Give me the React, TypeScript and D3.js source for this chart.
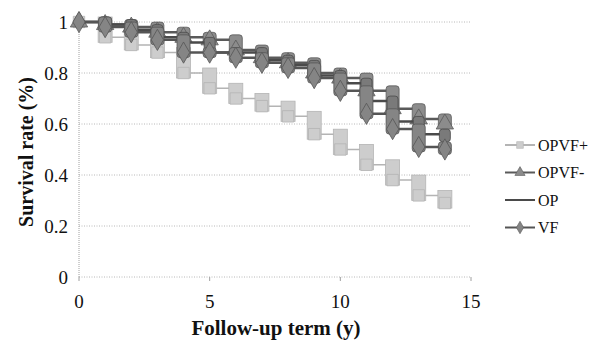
import { useMemo } from "react";
import * as d3 from "d3";

// follow-up years (x) and survival after the step at each year
const years = [0, 1, 2, 3, 4, 5, 6, 7, 8, 9, 10, 11, 12, 13, 14];
const opvfPlus = [1, 0.94, 0.91, 0.88, 0.8, 0.74, 0.7, 0.67, 0.63, 0.56, 0.5, 0.44, 0.38, 0.32, 0.29];
const opvfMinus = [1, 0.99, 0.98, 0.96, 0.94, 0.93, 0.89, 0.86, 0.84, 0.8, 0.78, 0.73, 0.66, 0.62, 0.6];
const op = [1, 0.99, 0.97, 0.94, 0.92, 0.88, 0.88, 0.85, 0.83, 0.79, 0.76, 0.69, 0.61, 0.56, 0.55];
const vf = [1, 0.98, 0.96, 0.93, 0.88, 0.88, 0.86, 0.84, 0.82, 0.78, 0.73, 0.64, 0.58, 0.51, 0.5];

const yTicks = [0, 0.2, 0.4, 0.6, 0.8, 1];
const xTicks = [0, 5, 10, 15];

const SERIES = [
  { name: "OPVF+", values: opvfPlus, fill: "#cdcdcd", stroke: "#b4b4b4", symbol: d3.symbolSquare, band: 14, lw: 1.5 },
  { name: "OPVF-", values: opvfMinus, fill: "#8c8c8c", stroke: "#5a5a5a", symbol: d3.symbolTriangle, band: 13, lw: 2.5 },
  { name: "OP", values: op, fill: "#7a7a7a", stroke: "#4a4a4a", symbol: null, band: 11, lw: 2.5 },
  { name: "VF", values: vf, fill: "#858585", stroke: "#555", symbol: d3.symbolDiamond, band: 13, lw: 2.5 },
];

const FONT = "Liberation Serif, Times New Roman, DejaVu Serif, serif";

export default function App() {
  const width = 598;
  const height = 344;

  const xScale = d3.scaleLinear().domain([0, 15]).range([79, 471]);
  const yScale = d3.scaleLinear().domain([0, 1]).range([277, 22]);

  const line = d3
    .line<number>()
    .x((_, i) => xScale(years[i]))
    .y((d) => yScale(d))
    .curve(d3.curveStepAfter);

  const symbolPaths = useMemo(
    () =>
      SERIES.map((s) =>
        s.symbol ? d3.symbol().type(s.symbol).size(130)() || "" : ""
      ),
    []
  );
  const legendPaths = useMemo(
    () =>
      SERIES.map((s) =>
        s.symbol ? d3.symbol().type(s.symbol).size(45)() || "" : ""
      ),
    []
  );

  const txt = { fontFamily: FONT, fill: "#111" };

  return (
    <div style={{ position: "absolute", left: 0, top: 0 }}>
      <svg width={width} height={height} style={{ display: "block", background: "#fff" }}>
        {/* Grid lines */}
        {yTicks.map((t) => (
          <line
            key={t}
            x1={xScale(0)}
            x2={xScale(15)}
            y1={yScale(t)}
            y2={yScale(t)}
            stroke="#b8b8b8"
            strokeWidth={1}
            strokeDasharray="1 1.5"
          />
        ))}
        {/* Y axis */}
        <line
          x1={xScale(0)}
          x2={xScale(0)}
          y1={yScale(0)}
          y2={yScale(1)}
          stroke="#a0a0a0"
          strokeDasharray="1 1"
        />
        {yTicks.map((t) => (
          <text
            key={t}
            x={68}
            y={yScale(t)}
            textAnchor="end"
            dominantBaseline="central"
            fontSize={19}
            style={txt}
          >
            {t === 0 || t === 1 ? t : t.toFixed(1)}
          </text>
        ))}
        {/* X axis ticks */}
        {xTicks.map((t) => (
          <g key={t}>
            <line
              x1={xScale(t)}
              x2={xScale(t)}
              y1={yScale(0)}
              y2={yScale(0) + 4}
              stroke="#a0a0a0"
            />
            <text
              x={xScale(t)}
              y={301}
              textAnchor="middle"
              dominantBaseline="central"
              fontSize={19}
              style={txt}
            >
              {t}
            </text>
          </g>
        ))}

        {/* Series */}
        {SERIES.map((s, si) => (
          <g key={s.name}>
            <path
              d={line(s.values) || ""}
              fill="none"
              stroke={s.stroke}
              strokeWidth={s.lw}
            />
            {s.values.map((v, i) => {
              if (i === 0) return null;
              const prev = s.values[i - 1];
              const x = xScale(years[i]);
              const top = yScale(prev) - 5;
              const bottom = yScale(v) + 5;
              return (
                <rect
                  key={i}
                  x={x - s.band / 2}
                  y={top}
                  width={s.band}
                  height={bottom - top}
                  fill={s.fill}
                  stroke={s.stroke}
                  strokeWidth={0.8}
                  rx={s.symbol === d3.symbolSquare ? 0 : 3}
                />
              );
            })}
            {symbolPaths[si] &&
              s.values.map((v, i) => (
                <path
                  key={"m" + i}
                  d={symbolPaths[si]}
                  transform={`translate(${xScale(years[i])},${yScale(v)})`}
                  fill={s.fill}
                  stroke={s.stroke}
                  strokeWidth={0.8}
                />
              ))}
          </g>
        ))}

        {/* Legend */}
        {SERIES.map((s, si) => {
          const y = 145 + si * 27.5;
          return (
            <g key={s.name}>
              <line x1={505} x2={535} y1={y} y2={y} stroke={s.stroke} strokeWidth={2} />
              {legendPaths[si] && (
                <path
                  d={legendPaths[si]}
                  transform={`translate(520,${y})`}
                  fill={s.fill}
                  stroke={s.stroke}
                  strokeWidth={0.6}
                />
              )}
              <text
                x={538}
                y={y}
                dominantBaseline="central"
                fontSize={16}
                style={txt}
              >
                {s.name}
              </text>
            </g>
          );
        })}

        {/* Axis titles */}
        <text
          x={276}
          y={328}
          textAnchor="middle"
          dominantBaseline="central"
          fontWeight="bold"
          fontSize={21}
          style={txt}
        >
          Follow-up term (y)
        </text>
        <text
          transform={`translate(26,152) rotate(-90)`}
          textAnchor="middle"
          dominantBaseline="central"
          fontWeight="bold"
          fontSize={20}
          style={txt}
        >
          Survival rate (%)
        </text>
      </svg>
    </div>
  );
}
